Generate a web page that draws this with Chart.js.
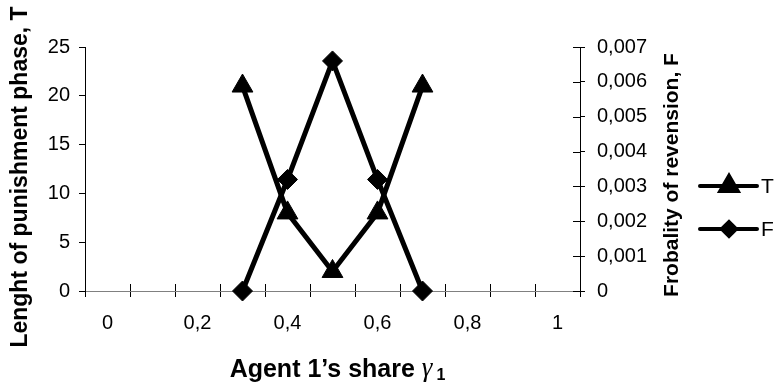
<!DOCTYPE html>
<html>
<head>
<meta charset="utf-8">
<script src="https://cdn.jsdelivr.net/npm/chart.js@4/dist/chart.umd.min.js"></script>
<style>
  body { margin: 0; background: #fff; }
  #wrap { width: 778px; height: 385px; position: relative; }
</style>
</head>
<body>
<div id="wrap"><canvas id="chart"></canvas></div>
<script>
// Agent 1's share (category axis, every other label shown)
const categories = ['0', '0,1', '0,2', '0,3', '0,4', '0,5', '0,6', '0,7', '0,8', '0,9', '1'];
// Length of punishment phase, T (left axis)
const tValues = [null, null, null, 21, 8, 2, 8, 21, null, null, null];
// Probability of reversion, F (right axis)
const fValues = [null, null, null, 0, 0.0032, 0.0066, 0.0032, 0, null, null, null];

const leftTitle = 'Lenght of punishment phase, T';
const rightTitle = 'Frobality of revension, F';
const xTitle = 'Agent 1\u2019s share ';

const FONT = '"Liberation Sans", Arial, sans-serif';
Chart.defaults.font.family = FONT;
Chart.defaults.color = '#000';

// axis titles, inner tick halves and the legend
const extras = {
    id: 'extras',
    beforeDatasetsDraw(chart) {
        const ctx = chart.ctx;
        const x = chart.scales.x;
        const y1 = chart.scales.y1;
        const half = (x.getPixelForValue(1) - x.getPixelForValue(0)) / 2;
        ctx.save();
        ctx.strokeStyle = '#000';
        ctx.lineWidth = 1;
        ctx.beginPath();
        for (let i = 0; i <= categories.length; i++) {
            const px = Math.round(x.getPixelForValue(i) - half) + 0.5;
            ctx.moveTo(px, x.top);
            ctx.lineTo(px, x.top - 7);
        }
        y1.ticks.forEach(t => {
            const py = Math.round(y1.getPixelForValue(t.value)) + 0.5;
            ctx.moveTo(y1.left, py);
            ctx.lineTo(y1.left - 7, py);
        });
        ctx.stroke();
        ctx.restore();
    },
    afterDraw(chart) {
        const ctx = chart.ctx;
        const area = chart.chartArea;
        const midY = (area.top + area.bottom) / 2 + 8;
        ctx.save();
        ctx.fillStyle = '#000';
        ctx.textAlign = 'center';
        ctx.textBaseline = 'middle';

        ctx.font = 'bold 23px ' + FONT;
        ctx.save();
        ctx.translate(21, midY);
        ctx.rotate(-Math.PI / 2);
        ctx.fillText(leftTitle, 0, 0);
        ctx.restore();

        ctx.font = 'bold 21px ' + FONT;
        ctx.save();
        ctx.translate(672, midY - 2);
        ctx.rotate(-Math.PI / 2);
        ctx.fillText(rightTitle, 0, 0);
        ctx.restore();

        // x title with gamma and subscript
        ctx.textAlign = 'left';
        ctx.textBaseline = 'alphabetic';
        const f1 = 'bold 25px ' + FONT;
        const f2 = 'italic 27px "Liberation Serif", "DejaVu Serif", serif';
        const f3 = 'bold 16px ' + FONT;
        ctx.font = f1; const w1 = ctx.measureText(xTitle).width;
        ctx.font = f2; const w2 = ctx.measureText('\u03b3').width;
        ctx.font = f3; const w3 = ctx.measureText('1').width;
        let sx = (area.left + area.right) / 2 + 5 - (w1 + w2 + 4 + w3) / 2;
        const base = 377;
        ctx.font = f1; ctx.fillText(xTitle, sx, base); sx += w1;
        ctx.font = f2; ctx.fillText('\u03b3', sx, base - 1); sx += w2 + 4;
        ctx.font = f3; ctx.fillText('1', sx, base + 3);

        // legend
        const rows = [186, 229];
        chart.data.datasets.forEach((ds, i) => {
            const yy = rows[i];
            ctx.strokeStyle = ds.borderColor;
            ctx.lineWidth = 4;
            ctx.lineCap = 'round';
            ctx.beginPath();
            ctx.moveTo(700, yy);
            ctx.lineTo(757, yy);
            ctx.stroke();
            ctx.fillStyle = ds.pointBackgroundColor;
            Chart.helpers.drawPoint(ctx, {
                pointStyle: ds.pointStyle,
                radius: ds.legendRadius,
                rotation: 0,
                borderWidth: 1
            }, 729, yy);
            ctx.fillStyle = '#000';
            ctx.font = '21px ' + FONT;
            ctx.textBaseline = 'middle';
            ctx.fillText(ds.label, 761, yy + 1);
        });
        ctx.restore();
    }
};

new Chart(document.getElementById('chart'), {
    type: 'line',
    data: {
        labels: categories,
        datasets: [
            {
                label: 'T',
                data: tValues,
                yAxisID: 'y',
                borderColor: '#000',
                backgroundColor: '#000',
                pointBackgroundColor: '#000',
                borderWidth: 5,
                pointStyle: 'triangle',
                pointRadius: 12,
                pointBorderWidth: 1,
                legendRadius: 10,
                tension: 0,
                clip: false
            },
            {
                label: 'F',
                data: fValues,
                yAxisID: 'y1',
                borderColor: '#000',
                backgroundColor: '#000',
                pointBackgroundColor: '#000',
                borderWidth: 5,
                pointStyle: 'rectRot',
                pointRadius: 10,
                pointBorderWidth: 1,
                legendRadius: 7,
                tension: 0,
                clip: false
            }
        ]
    },
    options: {
        responsive: true,
        maintainAspectRatio: false,
        animation: false,
        layout: { padding: { top: 47, left: 0, right: 0, bottom: 0 } },
        plugins: {
            legend: { display: false },
            tooltip: { enabled: false }
        },
        scales: {
            x: {
                type: 'category',
                offset: true,
                grid: {
                    offset: true,
                    drawOnChartArea: false,
                    drawTicks: true,
                    tickLength: 6,
                    color: '#000'
                },
                border: { color: '#808080', width: 1 },
                ticks: {
                    autoSkip: false,
                    maxRotation: 0,
                    padding: 14,
                    font: { size: 20 },
                    callback: function(value, index) {
                        return index % 2 === 0 ? categories[index] : '';
                    }
                },
                afterFit(scale) { scale.height = 94; }
            },
            y: {
                position: 'left',
                min: 0,
                max: 25,
                grid: {
                    drawOnChartArea: false,
                    tickLength: 6,
                    color: '#000'
                },
                border: { color: '#000', width: 1 },
                ticks: { stepSize: 5, padding: 9, font: { size: 20 } },
                afterFit(scale) { scale.width = 85; }
            },
            y1: {
                position: 'right',
                min: 0,
                max: 0.007,
                grid: {
                    drawOnChartArea: false,
                    tickLength: 5,
                    color: '#000'
                },
                border: { color: '#000', width: 1 },
                ticks: {
                    stepSize: 0.001,
                    padding: 12,
                    font: { size: 20 },
                    callback: v => v === 0 ? '0' : v.toFixed(3).replace('.', ',')
                },
                afterFit(scale) { scale.width = 198; }
            }
        }
    },
    plugins: [extras]
});
</script>
</body>
</html>
